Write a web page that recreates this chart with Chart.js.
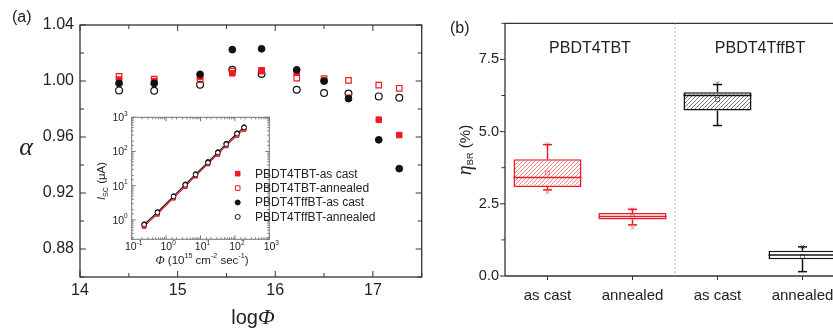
<!DOCTYPE html>
<html>
<head>
<meta charset="utf-8">
<script src="https://cdn.jsdelivr.net/npm/chart.js@4.4.0/dist/chart.umd.min.js"></script>
<style>
  html, body { margin: 0; padding: 0; background: #fff; overflow: hidden; width: 833px; height: 329px; }
  canvas { position: absolute; }
  #mainA { left: 0; top: 0; }
  #inset { left: 90px; top: 100px; }
  #panelB { left: 440px; top: 0; }
</style>
</head>
<body>
<canvas id="mainA" width="430" height="329"></canvas>
<canvas id="panelB" width="420" height="329"></canvas>
<canvas id="inset" width="340" height="200"></canvas>
<script>
const FONT = "'Liberation Sans', Arial, sans-serif"
const SERIF = "'Liberation Serif', 'DejaVu Serif', serif"
const RED = '#ed1c24'
const BLACK = '#111'

// panel (a): alpha vs log(photon flux)
const logPhi = [14.40, 14.76, 15.23, 15.56, 15.86, 16.22, 16.50, 16.75, 17.06, 17.27]
const alphaTbtCast = [1.001, 1.000, 1.003, 1.0055, 1.007, 1.006, 1.000, 0.988, 0.9724, 0.9614]
const alphaTbtAnn = [1.0033, 1.0014, 1.001, 1.007, 1.0076, 1.002, 1.0017, 1.0005, 0.997, 0.9948]
const alphaFfCast = [0.9983, 0.9983, 1.0048, 1.0224, 1.023, 1.008, 1.000, 0.9874, 0.958, 0.9374]
const alphaFfAnn = [0.9933, 0.993, 0.9974, 1.008, 1.005, 0.9938, 0.9914, 0.991, 0.989, 0.988]

// inset: Isc vs flux
const phiInset = [0.23, 0.56, 1.65, 3.6, 7.2, 16.5, 32, 56, 115, 185]
const iscTbtCast = [0.64, 1.45, 4.3, 9.3, 19, 43, 82, 145, 290, 440]
const iscTbtAnn = [0.66, 1.5, 4.4, 9.6, 19.5, 44, 85, 150, 300, 455]
const iscFfCast = [0.75, 1.7, 5.0, 11, 22, 50, 97, 170, 345, 520]
const iscFfAnn = [0.72, 1.65, 4.8, 10.5, 21, 47, 92, 163, 330, 500]

const seriesNames = ['PBDT4TBT-as cast', 'PBDT4TBT-annealed', 'PBDT4TffBT-as cast', 'PBDT4TffBT-annealed']

// panel (b): eta_BR box plots
const boxLabels = ['as cast', 'annealed', 'as cast', 'annealed']
const groupNames = ['PBDT4TBT', 'PBDT4TffBT']
const boxLow = [3.08, 1.96, 5.73, 0.58]
const boxHigh = [4.04, 2.18, 6.36, 0.875]
const medians = [3.41, 2.06, 6.25, 0.73]
const means = [3.57, 2.05, 6.11, 0.67]
const whiskerLow = [2.98, 1.77, 5.21, 0.15]
const whiskerHigh = [4.55, 2.31, 6.63, 1.01]
const extremeLow = [2.90, 1.67, null, null]
const extremeHigh = [4.57, 2.31, 6.68, 1.02]

const pairs = (xs, ys) => xs.map((v, i) => ({ x: v, y: ys[i] }))

function line (ctx, x1, y1, x2, y2) {
  ctx.beginPath()
  ctx.moveTo(x1, y1)
  ctx.lineTo(x2, y2)
  ctx.stroke()
}

// draws mixed italic / sub / sup text; align 'center' or 'right' on (x, y)
function richText (ctx, parts, x, y, size, rotate, align) {
  ctx.save()
  ctx.translate(x, y)
  if (rotate) ctx.rotate(-Math.PI / 2)
  const fontOf = (p) => {
    const s = p.s || (p.sub || p.sup ? size * 0.62 : size)
    return (p.i ? 'italic ' : '') + s + 'px ' + (p.f || FONT)
  }
  let w = 0
  parts.forEach((p) => { ctx.font = fontOf(p); w += ctx.measureText(p.t).width })
  let cx = align === 'right' ? -w : -w / 2
  ctx.textBaseline = 'middle'
  ctx.textAlign = 'left'
  ctx.fillStyle = '#222'
  parts.forEach((p) => {
    ctx.font = fontOf(p)
    const dy = p.sub ? size * 0.32 : p.sup ? -size * 0.4 : 0
    ctx.fillText(p.t, cx, dy)
    cx += ctx.measureText(p.t).width
  })
  ctx.restore()
}

function hatch (color) {
  const c = document.createElement('canvas')
  c.width = 4
  c.height = 4
  const g = c.getContext('2d')
  g.fillStyle = '#fff'
  g.fillRect(0, 0, 4, 4)
  g.strokeStyle = color
  g.lineWidth = 0.8
  line(g, 0, 4, 4, 0)
  line(g, -1, 1, 1, -1)
  line(g, 3, 5, 5, 3)
  return g.createPattern(c, 'repeat')
}

// ---------- panel (a) ----------
const frameA = {
  id: 'frameA',
  afterDraw (chart) {
    const { ctx, chartArea: a, scales: { x, y } } = chart
    ctx.save()
    ctx.strokeStyle = '#333'
    ctx.lineWidth = 1.3
    ctx.strokeRect(a.left, a.top, a.right - a.left, a.bottom - a.top)
    ctx.lineWidth = 1
    x.ticks.forEach((t) => {
      const px = x.getPixelForValue(t.value)
      const len = Number.isInteger(t.value) ? 6 : 4
      line(ctx, px, a.bottom, px, a.bottom - len)
      line(ctx, px, a.top, px, a.top + len)
    })
    y.ticks.forEach((t) => {
      const py = y.getPixelForValue(t.value)
      const len = Math.round(t.value * 100) % 4 === 0 ? 6 : 4
      line(ctx, a.left, py, a.left + len, py)
      line(ctx, a.right, py, a.right - len, py)
    })
    richText(ctx, [{ t: 'α', i: true, f: SERIF }], 26, 148, 26)
    richText(ctx, [{ t: 'log' }, { t: 'Φ', i: true, f: SERIF, s: 22 }], 253, 318, 20)
    ctx.fillStyle = '#222'
    ctx.font = '16px ' + FONT
    ctx.textBaseline = 'middle'
    ctx.fillText('(a)', 12, 18)
    ctx.restore()
  }
}

new Chart(document.getElementById('mainA'), {
  type: 'scatter',
  data: {
    datasets: [
      { label: seriesNames[2], data: pairs(logPhi, alphaFfCast), pointStyle: 'circle', pointRadius: 3.4, backgroundColor: BLACK, borderColor: BLACK, borderWidth: 1 },
      { label: seriesNames[1], data: pairs(logPhi, alphaTbtAnn), pointStyle: 'rect', pointRadius: 3.9, backgroundColor: 'rgba(0,0,0,0)', borderColor: RED, borderWidth: 1.2 },
      { label: seriesNames[0], data: pairs(logPhi, alphaTbtCast), pointStyle: 'rect', pointRadius: 3.9, backgroundColor: RED, borderColor: RED, borderWidth: 1 },
      { label: seriesNames[3], data: pairs(logPhi, alphaFfAnn), pointStyle: 'circle', pointRadius: 3.4, backgroundColor: 'rgba(0,0,0,0)', borderColor: BLACK, borderWidth: 1.2 }
    ]
  },
  options: {
    responsive: false,
    animation: false,
    layout: { padding: { top: 25, right: 8.3, left: 0, bottom: 0 } },
    plugins: { legend: { display: false }, tooltip: { enabled: false } },
    scales: {
      x: {
        type: 'linear',
        min: 14,
        max: 17.5,
        grid: { display: false, drawTicks: false },
        border: { display: false },
        ticks: {
          stepSize: 0.5,
          autoSkip: false,
          maxRotation: 0,
          padding: 4,
          color: '#222',
          font: { family: FONT, size: 16 },
          callback: (v) => Number.isInteger(v) ? String(v) : ''
        },
        afterFit: (s) => { s.height = 52 }
      },
      y: {
        min: 0.86,
        max: 1.04,
        grid: { display: false, drawTicks: false },
        border: { display: false },
        ticks: {
          stepSize: 0.02,
          autoSkip: false,
          padding: 6,
          color: '#222',
          font: { family: FONT, size: 16 },
          callback: (v) => Math.round(v * 100) % 4 === 0 ? v.toFixed(2) : ''
        },
        afterFit: (s) => { s.width = 80 }
      }
    }
  },
  plugins: [frameA]
})

// ---------- inset ----------
const isDecade = (v) => Math.abs(Math.log10(v) - Math.round(Math.log10(v))) < 1e-6

const insetPlugin = {
  id: 'insetFrame',
  afterDraw (chart) {
    const { ctx, chartArea: a, scales: { x, y } } = chart
    ctx.save()
    ctx.strokeStyle = '#777'
    ctx.lineWidth = 1
    ctx.strokeRect(a.left, a.top, a.right - a.left, a.bottom - a.top)
    x.ticks.forEach((t) => {
      const px = x.getPixelForValue(t.value)
      const dec = isDecade(t.value)
      const len = dec ? 4 : 2
      line(ctx, px, a.bottom, px, a.bottom - len)
      line(ctx, px, a.top, px, a.top + len)
      if (dec) richText(ctx, [{ t: '10' }, { t: String(Math.round(Math.log10(t.value))), sup: true }], px + 2, a.bottom + 8, 10.5)
    })
    y.ticks.forEach((t) => {
      if (t.value < y.min) return
      const py = y.getPixelForValue(t.value)
      const dec = isDecade(t.value)
      const len = dec ? 4 : 2
      line(ctx, a.left, py, a.left + len, py)
      line(ctx, a.right, py, a.right - len, py)
      if (dec) richText(ctx, [{ t: '10' }, { t: String(Math.round(Math.log10(t.value))), sup: true }], a.left - 4, py + 1, 10.5, false, 'right')
    })
    richText(ctx, [{ t: 'I', i: true }, { t: 'SC', sub: true }, { t: ' (μA)' }], 12, 81, 11.5, true)
    richText(ctx, [{ t: 'Φ', i: true, f: SERIF, s: 12 }, { t: ' (10' }, { t: '15', sup: true }, { t: ' cm' }, { t: '-2', sup: true }, { t: ' sec' }, { t: '-1', sup: true }, { t: ')' }], 112, 161, 11.5)

    // legend for the four series, drawn from the dataset styles
    const order = [0, 1, 2, 3].map((k) => chart.data.datasets.findIndex((d) => d.label === seriesNames[k]))
    ctx.font = '12px ' + FONT
    ctx.textBaseline = 'middle'
    ctx.textAlign = 'left'
    order.forEach((di, row) => {
      const ds = chart.data.datasets[di]
      const cy = 73.7 + row * 14.4
      const cx = 147.7
      ctx.fillStyle = ds.backgroundColor
      ctx.strokeStyle = ds.borderColor
      ctx.lineWidth = 1
      ctx.beginPath()
      if (ds.pointStyle === 'rect') ctx.rect(cx - 2.3, cy - 2.3, 4.6, 4.6)
      else ctx.arc(cx, cy, 2.5, 0, Math.PI * 2)
      ctx.fill()
      ctx.stroke()
      ctx.fillStyle = '#222'
      ctx.fillText(ds.label, 165, cy + 0.5)
    })
    ctx.restore()
  }
}

const insetSet = (label, ys, color, style, filled) => ({
  label,
  data: pairs(phiInset, ys),
  showLine: true,
  borderColor: color,
  borderWidth: 1,
  pointStyle: style,
  pointRadius: style === 'rect' ? 2.6 : 2.3,
  pointBorderWidth: 1,
  pointBorderColor: color,
  pointBackgroundColor: filled ? color : '#fff',
  backgroundColor: filled ? color : '#fff'
})

new Chart(document.getElementById('inset'), {
  type: 'scatter',
  data: {
    datasets: [
      insetSet(seriesNames[3], iscFfAnn, BLACK, 'circle', false),
      insetSet(seriesNames[2], iscFfCast, BLACK, 'circle', true),
      insetSet(seriesNames[1], iscTbtAnn, RED, 'rect', false),
      insetSet(seriesNames[0], iscTbtCast, RED, 'rect', true)
    ]
  },
  options: {
    responsive: false,
    animation: false,
    layout: { padding: { top: 17.3, right: 160.7, left: 0, bottom: 0 } },
    plugins: { legend: { display: false }, tooltip: { enabled: false } },
    scales: {
      x: {
        type: 'logarithmic',
        min: 0.1,
        max: 1000,
        grid: { display: false, drawTicks: false },
        border: { display: false },
        ticks: { autoSkip: false, maxRotation: 0, callback: () => '' },
        afterFit: (s) => { s.height = 60.7 }
      },
      y: {
        type: 'logarithmic',
        min: 0.27,
        max: 1000,
        grid: { display: false, drawTicks: false },
        border: { display: false },
        ticks: { autoSkip: false, callback: () => '' },
        afterFit: (s) => { s.width = 41.7 }
      }
    }
  },
  plugins: [insetPlugin]
})

// ---------- panel (b) ----------
const boxColors = [RED, RED, BLACK, BLACK]
const boxPlugin = {
  id: 'boxes',
  afterDatasetsDraw (chart) {
    const { ctx, scales: { y } } = chart
    const bars = chart.getDatasetMeta(0).data
    ctx.save()
    bars.forEach((bar, i) => {
      const half = bar.width / 2
      const py = (v) => y.getPixelForValue(v)
      ctx.strokeStyle = boxColors[i]
      ctx.lineWidth = 1.5
      line(ctx, bar.x - half, py(medians[i]), bar.x + half, py(medians[i]))
      line(ctx, bar.x, py(boxHigh[i]), bar.x, py(whiskerHigh[i]))
      line(ctx, bar.x, py(boxLow[i]), bar.x, py(whiskerLow[i]))
      line(ctx, bar.x - 4.5, py(whiskerHigh[i]), bar.x + 4.5, py(whiskerHigh[i]))
      line(ctx, bar.x - 4.5, py(whiskerLow[i]), bar.x + 4.5, py(whiskerLow[i]))
      ctx.lineWidth = 0.8
      ctx.globalAlpha = 0.6
      ctx.strokeRect(bar.x - 2, py(means[i]) - 2, 4, 4)
      ;[extremeLow[i], extremeHigh[i]].forEach((v) => {
        if (v == null) return
        const yy = py(v)
        line(ctx, bar.x - 2, yy - 2, bar.x + 2, yy + 2)
        line(ctx, bar.x - 2, yy + 2, bar.x + 2, yy - 2)
      })
      ctx.globalAlpha = 1
    })
    ctx.restore()
  },
  afterDraw (chart) {
    const { ctx, chartArea: a, scales: { x, y } } = chart
    ctx.save()
    ctx.strokeStyle = '#333'
    ctx.lineWidth = 1.3
    line(ctx, a.left, a.top, a.left, a.bottom)
    line(ctx, a.left, a.bottom, a.right, a.bottom)
    line(ctx, a.left, a.top, a.right, a.top)
    ctx.lineWidth = 1
    y.ticks.forEach((t) => {
      const py = y.getPixelForValue(t.value)
      const major = Math.round(t.value * 100) % 250 === 0
      line(ctx, a.left, py, a.left - (major ? 5 : 3.5), py)
    })
    boxLabels.forEach((l, i) => {
      const px = x.getPixelForValue(i)
      line(ctx, px, a.bottom, px, a.bottom + 4)
    })
    const mid = (x.getPixelForValue(1) + x.getPixelForValue(2)) / 2
    ctx.strokeStyle = '#999'
    ctx.lineWidth = 0.8
    ctx.setLineDash([2, 2])
    line(ctx, mid, a.top, mid, a.bottom)
    ctx.setLineDash([])
    ctx.fillStyle = '#222'
    ctx.font = '16px ' + FONT
    ctx.textAlign = 'center'
    ctx.textBaseline = 'middle'
    ctx.fillText(groupNames[0], (x.getPixelForValue(0) + x.getPixelForValue(1)) / 2, a.top + 25)
    ctx.fillText(groupNames[1], (x.getPixelForValue(2) + x.getPixelForValue(3)) / 2, a.top + 25)
    ctx.textAlign = 'left'
    ctx.fillText('(b)', 10, 29)
    richText(ctx, [{ t: 'η', i: true, f: SERIF, s: 20 }, { t: 'BR', sub: true }, { t: ' (%)' }], 26, 150, 15, true)
    ctx.restore()
  }
}

new Chart(document.getElementById('panelB'), {
  type: 'bar',
  data: {
    labels: boxLabels,
    datasets: [{
      data: boxLow.map((v, i) => [v, boxHigh[i]]),
      backgroundColor: [hatch('#f07070'), '#fff', hatch('#555'), '#fff'],
      borderColor: boxColors,
      borderWidth: 1.5,
      borderSkipped: false,
      barPercentage: 0.8,
      categoryPercentage: 1
    }]
  },
  options: {
    responsive: false,
    animation: false,
    layout: { padding: { top: 23.3, right: 15, left: 0, bottom: 0 } },
    plugins: { legend: { display: false }, tooltip: { enabled: false } },
    scales: {
      x: {
        grid: { display: false, drawTicks: false },
        border: { display: false },
        ticks: { padding: 11, color: '#222', maxRotation: 0, font: { family: FONT, size: 15 } },
        afterFit: (s) => { s.height = 53 }
      },
      y: {
        min: 0,
        max: 8.75,
        grid: { display: false, drawTicks: false },
        border: { display: false },
        ticks: {
          stepSize: 1.25,
          autoSkip: false,
          padding: 6,
          color: '#222',
          font: { family: FONT, size: 14.5 },
          callback: (v) => Math.round(v * 100) % 250 === 0 ? v.toFixed(1) : ''
        },
        afterFit: (s) => { s.width = 65 }
      }
    }
  },
  plugins: [boxPlugin]
})
</script>
</body>
</html>
